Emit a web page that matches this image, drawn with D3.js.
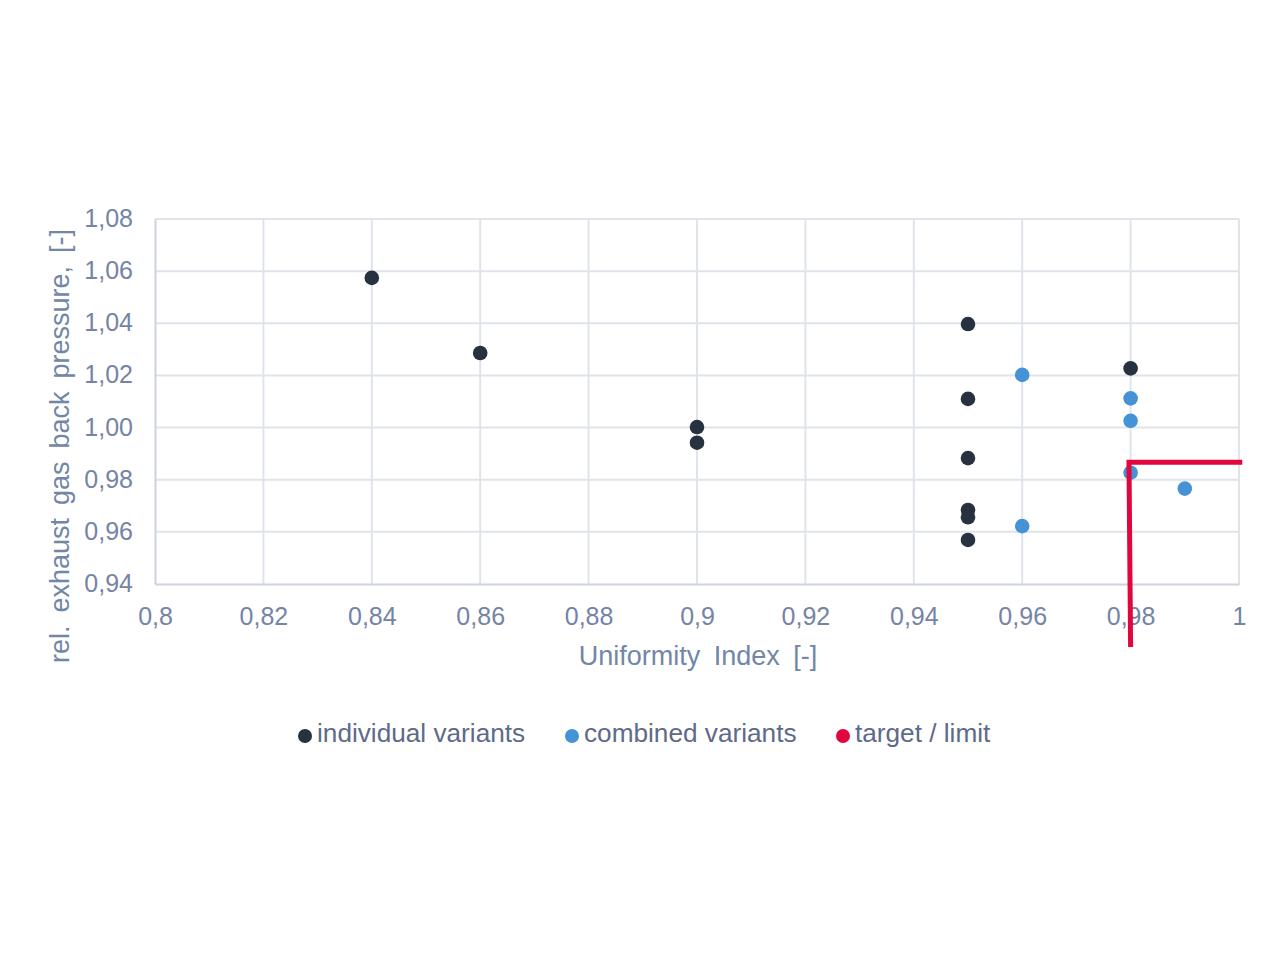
<!DOCTYPE html>
<html>
<head>
<meta charset="utf-8">
<script src="https://cdn.jsdelivr.net/npm/d3@7/dist/d3.min.js"></script>
<style>
  html, body { margin: 0; padding: 0; background: #ffffff; }
  svg { display: block; }
  text { font-family: "Liberation Sans", Arial, sans-serif; }
</style>
</head>
<body>
<svg id="chart" width="1280" height="960"></svg>
<script>
// ---- data ----
const individualX = [0.84, 0.86, 0.90, 0.90, 0.95, 0.95, 0.95, 0.95, 0.95, 0.95, 0.98];
const individualY = [1.0574, 1.0286, 1.0002, 0.9942, 1.0397, 1.0110, 0.9883, 0.9684, 0.9656, 0.9569, 1.0227];
const combinedX = [0.96, 0.96, 0.98, 0.98, 0.98, 0.99];
const combinedY = [1.0202, 0.9622, 1.0112, 1.0026, 0.9827, 0.9766];
const targetX = [0.9800, 0.9797, 1.0006];
const targetY = [0.9158, 0.9867, 0.9867];
const xTicks = [0.80, 0.82, 0.84, 0.86, 0.88, 0.90, 0.92, 0.94, 0.96, 0.98, 1.00];
const xTickLabels = ["0,8", "0,82", "0,84", "0,86", "0,88", "0,9", "0,92", "0,94", "0,96", "0,98", "1"];
const yTicks = [0.94, 0.96, 0.98, 1.00, 1.02, 1.04, 1.06, 1.08];
const yTickLabels = ["0,94", "0,96", "0,98", "1,00", "1,02", "1,04", "1,06", "1,08"];
const legendLabels = ["individual variants", "combined variants", "target / limit"];
const seriesColors = ["#27313f", "#4592d6", "#e2063f"];

// ---- layout ----
const svg = d3.select("#chart");
const x = d3.scaleLinear().domain([0.8, 1.0]).range([155, 1239]);
const y = d3.scaleLinear().domain([0.94, 1.08]).range([584, 219]);
const tickColor = "#7584a6";
const gridColor = "#dfe4eb";

// gridlines
const grid = svg.append("g");
grid.selectAll("line.vx").data(xTicks.slice(1)).enter().append("line")
  .attr("x1", d => x(d)).attr("x2", d => x(d))
  .attr("y1", y(1.08)).attr("y2", y(0.94))
  .attr("stroke", gridColor).attr("stroke-width", 2);
grid.selectAll("line.hy").data(yTicks.slice(1)).enter().append("line")
  .attr("x1", x(0.8)).attr("x2", x(1.0))
  .attr("y1", d => y(d)).attr("y2", d => y(d))
  .attr("stroke", gridColor).attr("stroke-width", 2);

// axes via d3 axis
const xAxis = svg.append("g").attr("transform", `translate(0,${y(0.94)})`)
  .call(d3.axisBottom(x).tickValues(xTicks).tickSize(0).tickPadding(0)
    .tickFormat((d, i) => xTickLabels[i]));
xAxis.select(".domain").attr("stroke", "#ccd3de").attr("stroke-width", 2);
xAxis.selectAll("text").attr("fill", tickColor).attr("font-size", 25)
  .attr("dy", null).attr("y", 41).attr("font-family", "Liberation Sans, Arial, sans-serif");

const yAxis = svg.append("g").attr("transform", `translate(${x(0.8)},0)`)
  .call(d3.axisLeft(y).tickValues(yTicks).tickSize(0).tickPadding(0)
    .tickFormat((d, i) => yTickLabels[i]));
yAxis.select(".domain").attr("stroke", "#ccd3de").attr("stroke-width", 2);
yAxis.selectAll("text").attr("fill", tickColor).attr("font-size", 25)
  .attr("x", -22).attr("dy", "0.3em").attr("font-family", "Liberation Sans, Arial, sans-serif");

// axis titles
svg.append("text")
  .attr("x", 698).attr("y", 665)
  .attr("text-anchor", "middle")
  .attr("font-size", 27).attr("word-spacing", 6)
  .attr("fill", "#7286a6")
  .text("Uniformity Index [-]");

svg.append("text")
  .attr("transform", "translate(69,446) rotate(-90)")
  .attr("text-anchor", "middle")
  .attr("font-size", 27).attr("word-spacing", 5.5)
  .attr("fill", "#7286a6")
  .text("rel. exhaust gas back pressure, [-]");

// points
const pts = svg.append("g");
pts.selectAll("circle.comb").data(combinedX).enter().append("circle")
  .attr("cx", d => x(d)).attr("cy", (d, i) => y(combinedY[i]))
  .attr("r", 7.3).attr("fill", seriesColors[1]);
pts.selectAll("circle.ind").data(individualX).enter().append("circle")
  .attr("cx", d => x(d)).attr("cy", (d, i) => y(individualY[i]))
  .attr("r", 7.3).attr("fill", seriesColors[0]);

// target line
const line = d3.line().x(d => x(d[0])).y(d => y(d[1]));
svg.append("path")
  .datum(targetX.map((d, i) => [d, targetY[i]]))
  .attr("d", line)
  .attr("fill", "none")
  .attr("stroke", seriesColors[2])
  .attr("stroke-width", 5)
  .attr("stroke-linejoin", "miter");

// legend
const legendPos = [305, 572, 843];
const lg = svg.append("g");
legendLabels.forEach((lab, i) => {
  lg.append("circle").attr("cx", legendPos[i]).attr("cy", 736).attr("r", 7).attr("fill", seriesColors[i]);
  lg.append("text").attr("x", legendPos[i] + 12).attr("y", 742)
    .attr("font-size", 26.2).attr("fill", "#5e6a88")
    .text(lab);
});
</script>
</body>
</html>
